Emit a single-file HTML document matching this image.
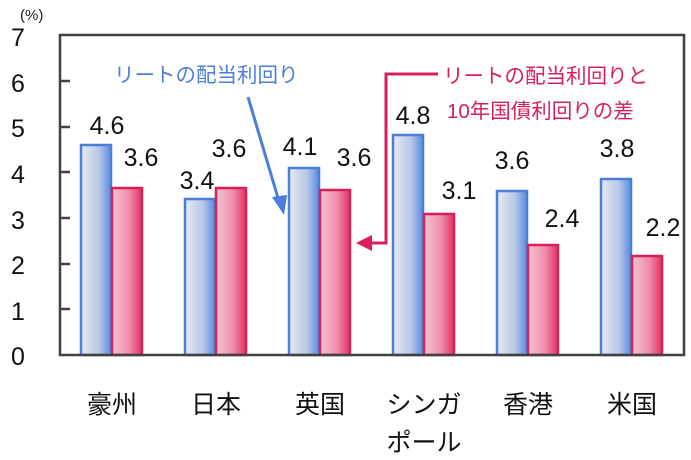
<!DOCTYPE html><html><head><meta charset="utf-8"><style>body{margin:0;background:#fff}svg{display:block}text{font-family:"Liberation Sans","Noto Sans CJK JP",sans-serif}</style></head><body>
<svg width="691" height="460" viewBox="0 0 691 460">
<defs>
<linearGradient id="b" x1="0" x2="1"><stop offset="0" stop-color="#e6eaf2"/><stop offset="0.6" stop-color="#b7c8e8"/><stop offset="1" stop-color="#5b8ae0"/></linearGradient>
<linearGradient id="r" x1="0" x2="1"><stop offset="0" stop-color="#f7c6d3"/><stop offset="0.6" stop-color="#ee8aa6"/><stop offset="1" stop-color="#e0305f"/></linearGradient>
</defs>
<g font-size="25" fill="#111" text-anchor="middle">
<text x="18" y="46">7</text><text x="18" y="92">6</text><text x="18" y="137">5</text><text x="18" y="183">4</text><text x="18" y="229">3</text><text x="18" y="274">2</text><text x="18" y="320">1</text><text x="18" y="365">0</text>
</g>
<text x="20" y="20" font-size="15" fill="#222">(%)</text>
<g stroke-width="2.5">
<rect x="81" y="145" width="30" height="210" fill="url(#b)" stroke="#4a7ed8"/>
<rect x="112" y="188" width="30" height="167" fill="url(#r)" stroke="#d81e5b"/>
<rect x="185" y="199" width="30" height="156" fill="url(#b)" stroke="#4a7ed8"/>
<rect x="216" y="188" width="30" height="167" fill="url(#r)" stroke="#d81e5b"/>
<rect x="289" y="168" width="30" height="187" fill="url(#b)" stroke="#4a7ed8"/>
<rect x="320" y="190" width="30" height="165" fill="url(#r)" stroke="#d81e5b"/>
<rect x="393" y="135" width="30" height="220" fill="url(#b)" stroke="#4a7ed8"/>
<rect x="424" y="214" width="30" height="141" fill="url(#r)" stroke="#d81e5b"/>
<rect x="497" y="191" width="30" height="164" fill="url(#b)" stroke="#4a7ed8"/>
<rect x="528" y="245" width="30" height="110" fill="url(#r)" stroke="#d81e5b"/>
<rect x="601" y="179" width="30" height="176" fill="url(#b)" stroke="#4a7ed8"/>
<rect x="632" y="256" width="30" height="99" fill="url(#r)" stroke="#d81e5b"/>
</g>
<rect x="60" y="35" width="624" height="320" fill="none" stroke="#404040" stroke-width="2.5"/>
<g stroke="#404040" stroke-width="2.5">
<line x1="60" y1="81" x2="70" y2="81"/><line x1="60" y1="127" x2="70" y2="127"/><line x1="60" y1="172" x2="70" y2="172"/><line x1="60" y1="218" x2="70" y2="218"/><line x1="60" y1="264" x2="70" y2="264"/><line x1="60" y1="309" x2="70" y2="309"/>
</g>
<g font-size="25" fill="#111" text-anchor="middle">
<text x="107" y="134">4.6</text><text x="141" y="166">3.6</text>
<text x="197" y="189">3.4</text><text x="229" y="157">3.6</text>
<text x="300" y="155">4.1</text><text x="354" y="166">3.6</text>
<text x="413" y="124">4.8</text><text x="459" y="199">3.1</text>
<text x="512" y="169">3.6</text><text x="562" y="227">2.4</text>
<text x="617" y="157">3.8</text><text x="663" y="236">2.2</text>
</g>
<g font-size="25" fill="#111" text-anchor="middle">
<text x="112" y="413">豪州</text><text x="216" y="413">日本</text><text x="320" y="413">英国</text><text x="424" y="413">シンガ</text><text x="424" y="451">ポール</text><text x="528" y="413">香港</text><text x="632" y="413">米国</text>
</g>
<text x="114" y="82" font-size="20.5" fill="#4a7ed8">リートの配当利回り</text>
<line x1="248" y1="97" x2="278" y2="198" stroke="#4a7ed8" stroke-width="3"/>
<polygon points="272,197 287,195 284,215" fill="#4a7ed8"/>
<text x="443" y="83" font-size="20.5" fill="#d81e5b">リートの配当利回りと</text>
<text x="447" y="118" font-size="20.5" fill="#d81e5b">10年国債利回りの差</text>
<polyline points="438,74 386,74 386,243 370,243" fill="none" stroke="#d81e5b" stroke-width="3"/>
<polygon points="372,235 356,243 372,251" fill="#d81e5b"/>
</svg>
</body></html>
